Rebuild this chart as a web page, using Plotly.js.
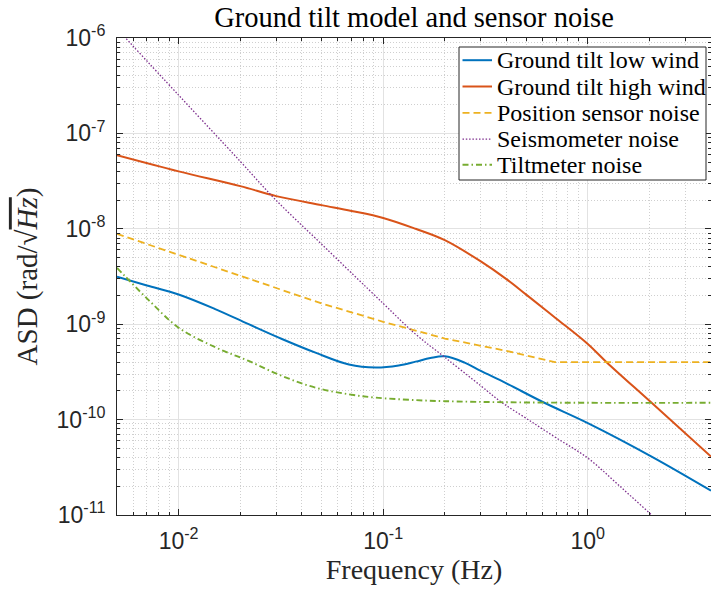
<!DOCTYPE html>
<html>
<head>
<meta charset="utf-8">
<script src="https://cdn.plot.ly/plotly-3.0.1.min.js"></script>
<style>html,body{margin:0;padding:0;background:#fff;}#chart{width:711px;height:590px;}</style>
</head>
<body>
<div id="chart"></div>
<script>
// ---- data ----
const seriesNames = ['Ground tilt low wind', 'Ground tilt high wind', 'Position sensor noise', 'Seismometer noise', 'Tiltmeter noise'];
const seriesColors = ['#0072BD', '#D95319', '#EDB120', '#7E2F8E', '#77AC30'];

const lowWindFreq = [0.005, 0.007, 0.01, 0.015, 0.022, 0.032, 0.047, 0.068, 0.092, 0.119, 0.144, 0.17, 0.2, 0.25, 0.3, 0.4, 0.606, 1.0, 2.05, 4];
const lowWindASD  = [3.15e-9, 2.55e-9, 2.05e-9, 1.45e-9, 1.0e-9, 7.0e-10, 5.0e-10, 3.78e-10, 3.52e-10, 3.7e-10, 4.05e-10, 4.42e-10, 4.6e-10, 3.95e-10, 3.24e-10, 2.4e-10, 1.52e-10, 9.2e-11, 4.1e-11, 1.8e-11];

const highWindFreq = [0.005, 0.01, 0.02, 0.03, 0.05, 0.07, 0.1, 0.144, 0.2, 0.3, 0.4, 0.5, 0.7, 1.0, 1.235, 2.05, 4];
const highWindASD  = [5.9e-8, 4.0e-8, 2.8e-8, 2.2e-8, 1.77e-8, 1.54e-8, 1.3e-8, 1.0e-8, 7.6e-9, 4.55e-9, 2.97e-9, 2.04e-9, 1.15e-9, 6.2e-10, 4.0e-10, 1.5e-10, 4.1e-11];

const positionFreq = [0.005, 0.01, 0.02, 0.05, 0.1, 0.2, 0.4, 0.69, 1.0, 2.0, 4];
const positionASD  = [8.85e-9, 5.33e-9, 3.22e-9, 1.65e-9, 1.06e-9, 7.08e-10, 5.25e-10, 4.0e-10, 4.0e-10, 4.0e-10, 4.0e-10];

const seismoFreq = [0.005, 0.01, 0.02, 0.0295, 0.05, 0.1, 0.144, 0.2, 0.3, 0.379, 0.5, 0.7, 1.0, 1.4, 2.05, 3, 4];
const seismoASD  = [1.25e-6, 2.52e-7, 5.1e-8, 2.06e-8, 6.9e-9, 1.65e-9, 7.85e-10, 4.5e-10, 2.26e-10, 1.52e-10, 1.03e-10, 6.45e-11, 3.95e-11, 2.1e-11, 1.0e-11, 4.8e-12, 2.8e-12];

const tiltFreq = [0.005, 0.0055, 0.00716, 0.01, 0.0152, 0.022, 0.032, 0.0467, 0.068, 0.092, 0.144, 0.2, 0.4, 1.0, 4];
const tiltASD  = [3.9e-9, 3.15e-9, 1.78e-9, 9.2e-10, 5.7e-10, 4.12e-10, 2.87e-10, 2.16e-10, 1.84e-10, 1.7e-10, 1.6e-10, 1.56e-10, 1.52e-10, 1.5e-10, 1.5e-10];

const xTickVals = [0.01, 0.1, 1];
const xTickText = ['10<sup>-2</sup>', '10<sup>-1</sup>', '10<sup>0</sup>'];
const yTickVals = [1e-11, 1e-10, 1e-9, 1e-8, 1e-7, 1e-6];
const yTickText = ['10<sup>-11</sup>', '10<sup>-10</sup>', '10<sup>-9</sup>', '10<sup>-8</sup>', '10<sup>-7</sup>', '10<sup>-6</sup>'];

// ---- layout geometry ----
const W = 711, H = 590, L = 117, R = 0, T = 38, B = 75;
const PW = W - L - R, PH = H - T - B;
const px2x = p => (p - L) / PW;
const py2y = p => (H - B - p) / PH;

function minorVals(d0, d1, maxV) {
  const out = [];
  for (let d = d0; d <= d1; d++) {
    for (let k = 2; k <= 9; k++) {
      const v = k * Math.pow(10, d);
      if (v <= maxV) out.push(v);
    }
  }
  return out;
}
const xMinor = minorVals(-3, 0, 4.0001).filter(v => v >= 0.005);
const yMinor = minorVals(-11, -7, 1e-6);

const dashes = ['solid', 'solid', '7px,4px', '1.5px,1.8px', '6px,3px,1.5px,3px'];
const widths = [2, 2, 1.8, 1.3, 1.9];
const freqs = [lowWindFreq, highWindFreq, positionFreq, seismoFreq, tiltFreq];
const vals = [lowWindASD, highWindASD, positionASD, seismoASD, tiltASD];
const shapesKind = ['spline', 'spline', 'linear', 'spline', 'spline'];

const traces = seriesNames.map((n, i) => ({
  x: freqs[i], y: vals[i], name: n, type: 'scatter', mode: 'lines', showlegend: false,
  line: {color: seriesColors[i], width: widths[i], dash: dashes[i], shape: shapesKind[i], smoothing: 1}
}));

// manual legend (box, samples, labels)
const legendRows = [60.2, 86.5, 112.9, 139.2, 164.8];
const shapes = [{
  type: 'rect', xref: 'paper', yref: 'paper', layer: 'above',
  x0: px2x(459), x1: px2x(706), y0: py2y(180), y1: py2y(47),
  fillcolor: '#ffffff', line: {color: '#262626', width: 1}
}];
const annotations = [];
seriesNames.forEach((n, i) => {
  shapes.push({type: 'line', xref: 'paper', yref: 'paper', layer: 'above',
    x0: px2x(462.5), x1: px2x(492), y0: py2y(legendRows[i]), y1: py2y(legendRows[i]),
    line: {color: seriesColors[i], width: widths[i], dash: dashes[i]}});
  annotations.push({xref: 'paper', yref: 'paper', x: px2x(495), y: py2y(legendRows[i]),
    xanchor: 'left', yanchor: 'middle', showarrow: false, text: n,
    font: {family: 'Liberation Serif, serif', size: 24, color: '#000'}});
});

const tickFont = {family: 'Liberation Sans, Arial, sans-serif', size: 23, color: '#262626'};
const axisCommon = {
  type: 'log', tickmode: 'array', ticks: 'inside', ticklen: 6, tickwidth: 1, tickcolor: '#262626',
  showline: true, linecolor: '#262626', linewidth: 1, mirror: 'ticks',
  showgrid: true, gridcolor: '#e2e2e2', gridwidth: 1, zeroline: false,
  tickfont: tickFont, automargin: false
};

const layout = {
  width: W, height: H,
  margin: {l: L, r: R, t: T, b: B, pad: 0},
  paper_bgcolor: '#ffffff', plot_bgcolor: '#ffffff',
  showlegend: false,
  title: {text: 'Ground tilt model and sensor noise', x: 0.5, xref: 'paper', xanchor: 'center',
          y: 1 - 17 / H, yref: 'container', yanchor: 'middle',
          font: {family: 'Liberation Serif, serif', size: 28.5, color: '#000'}},
  xaxis: Object.assign({}, axisCommon, {
    range: [Math.log10(0.005), Math.log10(4)],
    tickvals: xTickVals, ticktext: xTickText, ticklabelstandoff: 5,
    minor: {tickmode: 'array', tickvals: xMinor, ticks: 'inside', ticklen: 3, tickcolor: '#262626',
            showgrid: true, gridcolor: '#cfcfcf', griddash: '1px,2px', gridwidth: 1},
    title: {text: 'Frequency (Hz)', standoff: 6, font: {family: 'Liberation Serif, serif', size: 28, color: '#262626'}}
  }),
  yaxis: Object.assign({}, axisCommon, {
    range: [-11, -6],
    tickvals: yTickVals, ticktext: yTickText, ticklabelstandoff: 6,
    minor: {tickmode: 'array', tickvals: yMinor, ticks: 'inside', ticklen: 3, tickcolor: '#262626',
            showgrid: true, gridcolor: '#cfcfcf', griddash: '1px,2px', gridwidth: 1},
    title: {text: 'ASD (rad/\u221A<i><span style="text-decoration:overline">Hz</span></i>)', standoff: 10,
            font: {family: 'Liberation Serif, serif', size: 29, color: '#262626'}}
  }),
  shapes: shapes,
  annotations: annotations
};

Plotly.newPlot('chart', traces, layout, {staticPlot: true, displayModeBar: false});
</script>
</body>
</html>
